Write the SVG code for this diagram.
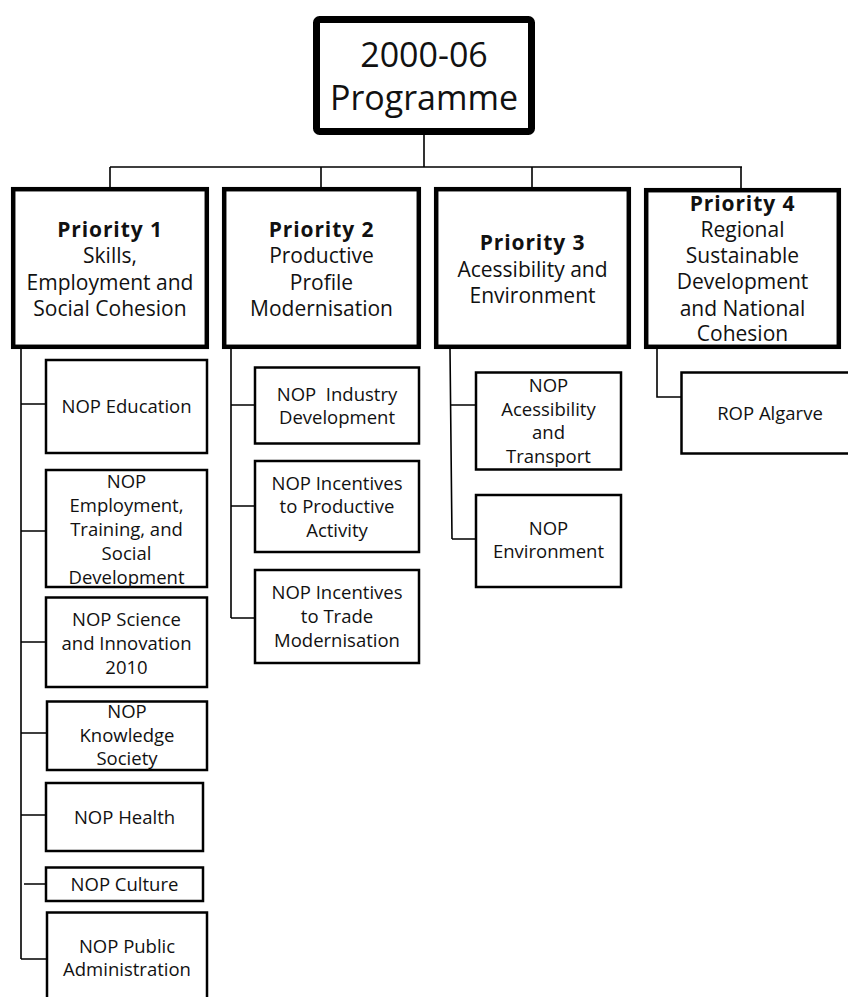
<svg xmlns="http://www.w3.org/2000/svg" width="848" height="997" viewBox="0 0 848 997">
<style>
text{font-family:"Open Sans","DejaVu Sans",sans-serif;fill:#111;text-anchor:middle}
.t{font-size:34px}
.p{font-size:21px}
.b{font-weight:bold;letter-spacing:0.9px}
.n{font-size:18.5px}
.top{fill:#fff;stroke:#000;stroke-width:7}
.pri{fill:#fff;stroke:#000;stroke-width:4.5}
.nop{fill:#fff;stroke:#000;stroke-width:2.5}
.c{fill:none;stroke:#000;stroke-width:1.6}
</style>
<rect width="848" height="997" fill="#fff"/>
<g id="connectors">
<path class="c" d="M424,135V167M110,167H742M110,167V188M321,167V188M532,167V188M741,167V188"/>
<path class="c" d="M21,349V959M21,404H45M21,531H45M21,642H45M21,733H46M21,815H45M24,884H45M21,959H46"/>
<path class="c" d="M231,349V618M231,405H254M231,506H254M231,618H254"/>
<path class="c" d="M450,349L452,539M450,405H475M452,539H475"/>
<path class="c" d="M657,348V397H681"/>
</g>
<g id="programme">
<rect class="top" x="316.5" y="19.5" width="215" height="112" rx="3"/>
<text class="t" x="424" y="67">2000-06</text>
<text class="t" x="424" y="110">Programme</text>
</g>
<g id="priority1">
<rect class="pri" x="13.2" y="189.2" width="193.6" height="157.6"/>
<text class="p" x="110"><tspan class="b" x="110" y="237">Priority 1</tspan><tspan x="110" y="263">Skills,</tspan><tspan x="110" y="290">Employment and</tspan><tspan x="110" y="316">Social Cohesion</tspan></text>
</g>
<g id="priority2">
<rect class="pri" x="224.2" y="189.2" width="194.6" height="157.6"/>
<text class="p" x="321.5"><tspan class="b" x="321.5" y="237">Priority 2</tspan><tspan x="321.5" y="263">Productive</tspan><tspan x="321.5" y="290">Profile</tspan><tspan x="321.5" y="316">Modernisation</tspan></text>
</g>
<g id="priority3">
<rect class="pri" x="436.2" y="189.2" width="192.6" height="157.6"/>
<text class="p" x="532.5"><tspan class="b" x="532.5" y="250">Priority 3</tspan><tspan x="532.5" y="277">Acessibility and</tspan><tspan x="532.5" y="303">Environment</tspan></text>
</g>
<g id="priority4">
<rect class="pri" x="646.2" y="190.2" width="192.6" height="156.6"/>
<text class="p" x="742.5"><tspan class="b" x="742.5" y="211">Priority 4</tspan><tspan x="742.5" y="237">Regional</tspan><tspan x="742.5" y="263">Sustainable</tspan><tspan x="742.5" y="289">Development</tspan><tspan x="742.5" y="316">and National</tspan><tspan x="742.5" y="341">Cohesion</tspan></text>
</g>
<g id="nop-education">
<rect class="nop" x="46" y="360" width="161" height="93"/>
<text class="n" x="126.5" y="413">NOP Education</text>
</g>
<g id="nop-employment">
<rect class="nop" x="46" y="470" width="161" height="117"/>
<text class="n"><tspan x="126.5" y="488">NOP</tspan><tspan x="126.5" y="512">Employment,</tspan><tspan x="126.5" y="536">Training, and</tspan><tspan x="126.5" y="560">Social</tspan><tspan x="126.5" y="584">Development</tspan></text>
</g>
<g id="nop-science">
<rect class="nop" x="46" y="597.5" width="161" height="89.5"/>
<text class="n"><tspan x="126.5" y="626">NOP Science</tspan><tspan x="126.5" y="650">and Innovation</tspan><tspan x="126.5" y="674">2010</tspan></text>
</g>
<g id="nop-knowledge">
<rect class="nop" x="47" y="701.5" width="160" height="68.5"/>
<text class="n"><tspan x="127" y="718">NOP</tspan><tspan x="127" y="742">Knowledge</tspan><tspan x="127" y="765">Society</tspan></text>
</g>
<g id="nop-health">
<rect class="nop" x="46" y="783" width="157" height="68"/>
<text class="n" x="124.5" y="824">NOP Health</text>
</g>
<g id="nop-culture">
<rect class="nop" x="46" y="867.5" width="157" height="33.5"/>
<text class="n" x="124.5" y="891">NOP Culture</text>
</g>
<g id="nop-public-admin">
<rect class="nop" x="47" y="912.5" width="160" height="110"/>
<text class="n"><tspan x="127" y="953">NOP Public</tspan><tspan x="127" y="976">Administration</tspan></text>
</g>
<g id="nop-industry">
<rect class="nop" x="255" y="367.5" width="164" height="76"/>
<text class="n" xml:space="preserve"><tspan x="337" y="401">NOP  Industry</tspan><tspan x="337" y="424">Development</tspan></text>
</g>
<g id="nop-incentives-productive">
<rect class="nop" x="255" y="461" width="164" height="91"/>
<text class="n"><tspan x="337" y="490">NOP Incentives</tspan><tspan x="337" y="513">to Productive</tspan><tspan x="337" y="537">Activity</tspan></text>
</g>
<g id="nop-incentives-trade">
<rect class="nop" x="255" y="570" width="164" height="93"/>
<text class="n"><tspan x="337" y="599">NOP Incentives</tspan><tspan x="337" y="623">to Trade</tspan><tspan x="337" y="647">Modernisation</tspan></text>
</g>
<g id="nop-accessibility">
<rect class="nop" x="476" y="372.5" width="145" height="97"/>
<text class="n"><tspan x="548.5" y="392">NOP</tspan><tspan x="548.5" y="416">Acessibility</tspan><tspan x="548.5" y="439">and</tspan><tspan x="548.5" y="463">Transport</tspan></text>
</g>
<g id="nop-environment">
<rect class="nop" x="476" y="495" width="145" height="92"/>
<text class="n"><tspan x="548.5" y="535">NOP</tspan><tspan x="548.5" y="558">Environment</tspan></text>
</g>
<g id="rop-algarve">
<rect class="nop" x="681.5" y="372.5" width="180" height="81"/>
<text class="n" x="770" y="420">ROP Algarve</text>
</g>
</svg>
